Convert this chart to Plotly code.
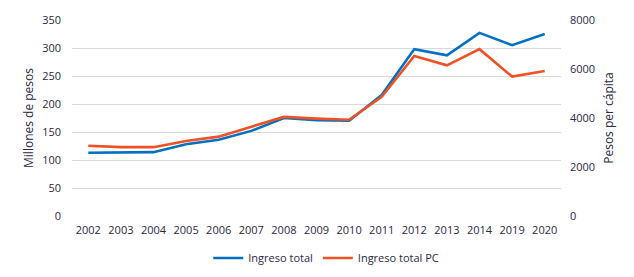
import plotly.graph_objects as go

years = ["2002", "2003", "2004", "2005", "2006", "2007", "2008", "2009",
         "2010", "2011", "2012", "2013", "2014", "2019", "2020"]
ingreso_total = [113, 114, 114, 128, 136, 152, 175, 171, 170, 216, 298, 287, 327, 305, 325]
ingreso_total_pc = [2870, 2810, 2810, 3065, 3240, 3635, 4045, 3975, 3930, 4870,
                    6535, 6150, 6810, 5690, 5920]

left_ticks = [0, 50, 100, 150, 200, 250, 300, 350]
right_ticks = [0, 2000, 4000, 6000, 8000]

font_family = "Open Sans, Liberation Sans, sans-serif"
text_color = "#2a2a44"

fig = go.Figure()
fig.add_trace(go.Scatter(x=years, y=ingreso_total, name="Ingreso total", mode="lines",
                         line=dict(color="#0070C0", width=2.6), yaxis="y"))
fig.add_trace(go.Scatter(x=years, y=ingreso_total_pc, name="Ingreso total PC", mode="lines",
                         line=dict(color="#EE5224", width=2.6), yaxis="y2"))

fig.update_layout(
    width=626, height=269,
    margin=dict(l=64, r=73, t=12, b=61, autoexpand=False),
    paper_bgcolor="white", plot_bgcolor="white",
    font=dict(family=font_family, size=11, color=text_color),
    xaxis=dict(type="category", range=[-0.5, len(years) - 0.5], showgrid=False,
               showline=False, zeroline=False, ticks="", automargin=False,
               ticklabelstandoff=6, tickfont=dict(size=11, color=text_color)),
    yaxis=dict(range=[0, 350], tickvals=left_ticks, showgrid=True, gridcolor="#d9d9e6",
               gridwidth=1, zeroline=False, showline=False, ticks="", automargin=False,
               ticklabelstandoff=10,
               title=dict(text="Millones de pesos", font=dict(size=12, color=text_color), standoff=5),
               tickfont=dict(size=11, color=text_color)),
    yaxis2=dict(range=[0, 8000], tickvals=right_ticks, overlaying="y", side="right",
                showgrid=False, zeroline=False, showline=False, ticks="", automargin=False,
                ticklabelstandoff=8,
                title=dict(text="Pesos per cápita", font=dict(size=12, color=text_color), standoff=10),
                tickfont=dict(size=11, color=text_color)),
    legend=dict(orientation="h", x=0.52, xanchor="center", y=-0.214, yanchor="middle",
                font=dict(size=11, color=text_color), bgcolor="rgba(0,0,0,0)"),
    showlegend=True,
)

fig.write_html("out.html")
